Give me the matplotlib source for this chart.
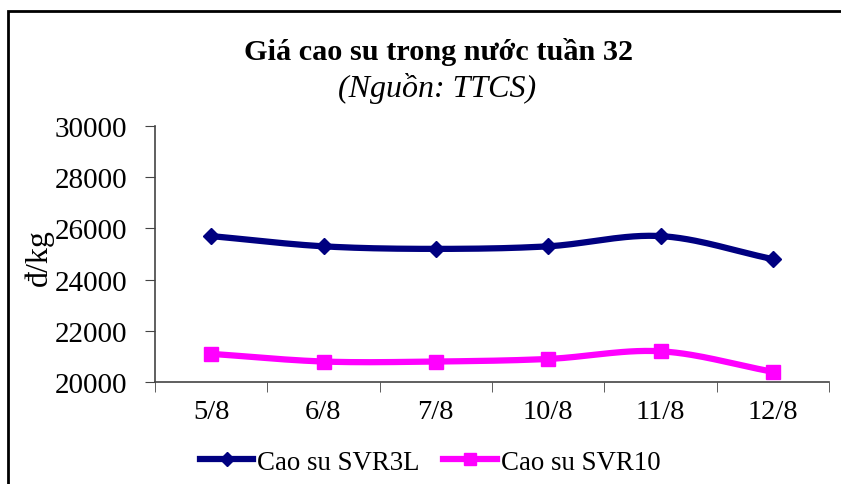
import numpy as np
import matplotlib
matplotlib.use("Agg")
import matplotlib.pyplot as plt
from matplotlib.patches import Rectangle
from matplotlib.lines import Line2D

categories = ["5/8", "6/8", "7/8", "10/8", "11/8", "12/8"]
svr3l = [25700, 25300, 25200, 25300, 25700, 24800]
svr10 = [21100, 20800, 20800, 20900, 21200, 20400]
series_names = ["Cao su SVR3L", "Cao su SVR10"]
yticks = [20000, 22000, 24000, 26000, 28000, 30000]

plt.rcParams['font.family'] = ['Liberation Serif', 'DejaVu Serif']


def smooth(xs, ys, n=30):
    # Catmull-Rom style curve through the data points (drawing only)
    xs = np.asarray(xs, float); ys = np.asarray(ys, float)
    px = np.concatenate([[2*xs[0]-xs[1]], xs, [2*xs[-1]-xs[-2]]])
    py = np.concatenate([[2*ys[0]-ys[1]], ys, [2*ys[-1]-ys[-2]]])
    outx, outy = [], []
    t = np.linspace(0, 1, n)
    for i in range(1, len(px)-2):
        for arr, out in ((px, outx), (py, outy)):
            p0, p1, p2, p3 = arr[i-1], arr[i], arr[i+1], arr[i+2]
            out.extend(0.5*((2*p1) + (-p0+p2)*t + (2*p0-5*p1+4*p2-p3)*t**2 + (-p0+3*p1-3*p2+p3)*t**3))
    return np.array(outx), np.array(outy)


fig = plt.figure(figsize=(8.41, 4.85), dpi=100)
ax = fig.add_axes([155/841, (485-383)/485, (829-155)/841, (383-127)/485])

x = np.arange(len(categories))
navy = "#000080"
magenta = "#FF00FF"

sx, sy = smooth(x, svr3l)
ax.plot(sx, sy, color=navy, lw=4.5, solid_capstyle='round', zorder=3)
ax.plot(x, svr3l, linestyle='none', marker='D', ms=8, color=navy, zorder=4)
sx, sy = smooth(x, svr10)
ax.plot(sx, sy, color=magenta, lw=4.5, solid_capstyle='round', zorder=3)
ax.plot(x, svr10, linestyle='none', marker='s', ms=10, color=magenta, zorder=4)

ax.set_xlim(-0.5, len(categories)-0.5)
ax.set_ylim(20000, 30000)
ax.set_yticks(yticks)
ax.set_yticklabels([str(v) for v in yticks], fontsize=21)
ax.set_xticks(x)
ax.set_xticklabels(categories, fontsize=20.5)
ax.set_xticks(np.arange(-0.5, len(categories)), minor=True)
ax.tick_params(axis='x', which='major', length=0, pad=12)
ax.tick_params(axis='x', which='minor', length=7, direction='out', color='#444444')
ax.tick_params(axis='y', length=7, direction='out', color='#444444', pad=13)
for s in ['top', 'right']:
    ax.spines[s].set_visible(False)
for s in ['left', 'bottom']:
    ax.spines[s].set_color('#444444')
    ax.spines[s].set_linewidth(1.2)

fig.text(39/841, 1-258/485, "đ/kg", rotation=90, fontsize=23, ha='center', va='center')
fig.text(439/841, 1-52/485, "Giá cao su trong nước tuần 32", fontsize=21.8, fontweight='bold',
         ha='center', va='center')
fig.text(437/841, 1-89/485, "(Nguồn: TTCS)", fontsize=23, fontstyle='italic',
         ha='center', va='center')

h1 = Line2D([], [], color=navy, lw=4.5, marker='D', ms=7)
h2 = Line2D([], [], color=magenta, lw=4.5, marker='s', ms=9)
fig.legend([h1, h2], series_names, loc='center', bbox_to_anchor=(430/841, 1-463/485),
           ncol=2, frameon=False, fontsize=19.4, handlelength=2.0, handletextpad=0.15,
           columnspacing=0.85)

fig.patches.append(Rectangle((7.5/841, -0.1), 1.2, (485-11.5)/485 + 0.1, transform=fig.transFigure,
                             fill=False, edgecolor='black', lw=2, zorder=0))

fig.savefig("out.png", dpi=100)
